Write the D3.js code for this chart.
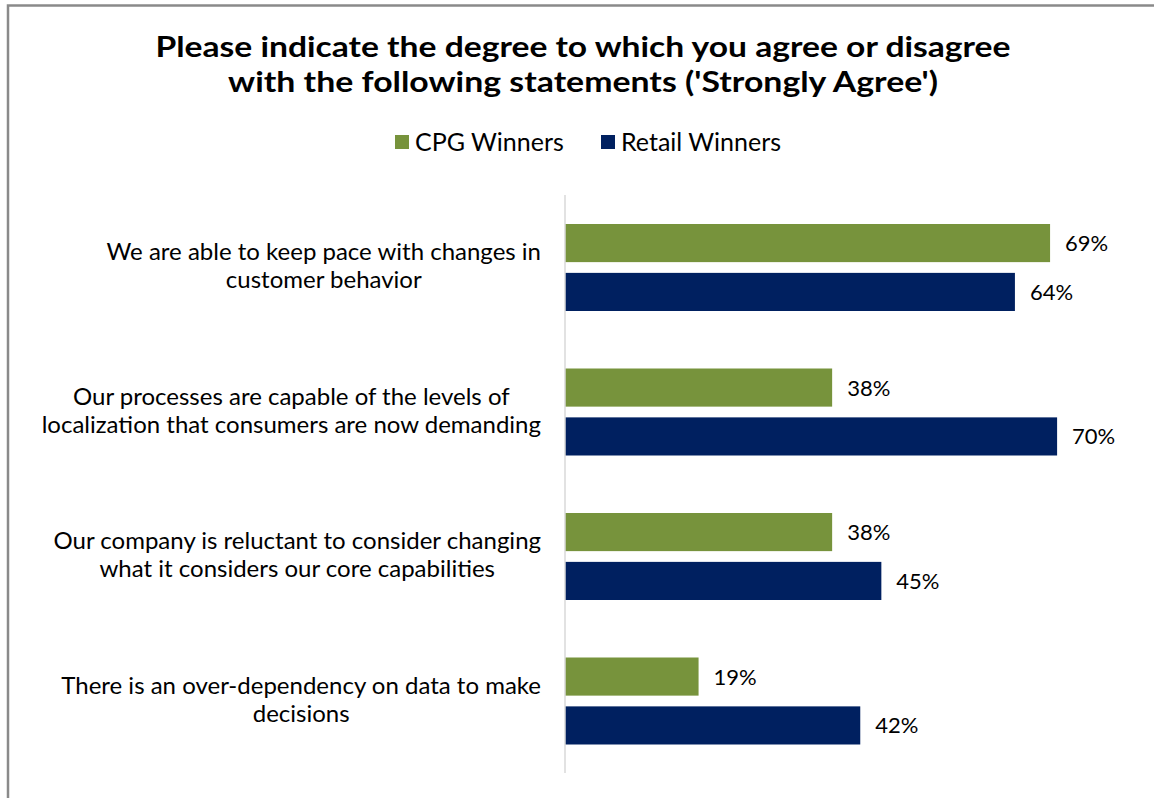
<!DOCTYPE html>
<html>
<head>
<meta charset="utf-8">
<script src="https://cdn.jsdelivr.net/npm/d3@7"></script>
<style>
  body { margin: 0; background: #fff; }
  text { font-family: Lato, "Open Sans", sans-serif; fill: #000; }
</style>
</head>
<body>
<script>
const categories = [
  ['We are able to keep pace with changes in', 'customer behavior'],
  ['Our processes are capable of the levels of', 'localization that consumers are now demanding'],
  ['Our company is reluctant to consider changing', 'what it considers our core capabilities'],
  ['There is an over-dependency on data to make', 'decisions']
];
const seriesNames = ['CPG Winners', 'Retail Winners'];
const cpgValues = [69, 38, 38, 19];
const retailValues = [64, 70, 45, 42];
const colors = ['#77933c', '#002060'];
const titleLines = [
  'Please indicate the degree to which you agree or disagree',
  "with the following statements ('Strongly Agree')"
];

const width = 1154, height = 798;
const svg = d3.select('body').append('svg')
  .attr('width', width)
  .attr('height', height);

// frame (top and left edges visible)
svg.append('path')
  .attr('d', `M8,${height} V5.5 H${width}`)
  .attr('fill', 'none')
  .attr('stroke', '#8a8a8a')
  .attr('stroke-width', 2.5);

// title
svg.append('text')
  .attr('text-anchor', 'middle')
  .attr('font-weight', 'bold')
  .attr('font-size', 28)
  .selectAll('tspan')
  .data(titleLines)
  .join('tspan')
  .attr('x', 583)
  .attr('y', (d, i) => 57 + i * 35)
  .attr('textLength', (d, i) => i === 0 ? 855 : 710)
  .attr('lengthAdjust', 'spacingAndGlyphs')
  .text(d => d);

// legend
const legend = svg.append('g');
const legendX = [395, 601];
seriesNames.forEach((name, i) => {
  legend.append('rect')
    .attr('x', legendX[i]).attr('y', 135)
    .attr('width', 14).attr('height', 14)
    .attr('fill', colors[i]);
  legend.append('text')
    .attr('x', legendX[i] + 20).attr('y', 151)
    .attr('font-size', 25)
    .text(name);
});

// scales
const x0 = 565;
const x = d3.scaleLinear().domain([0, 100]).range([x0, x0 + 703]);
const y = d3.scaleBand()
  .domain(d3.range(categories.length))
  .range([195, 773])
  .paddingInner(0)
  .paddingOuter(0);
const sub = d3.scaleBand()
  .domain(d3.range(seriesNames.length))
  .range([29, 29 + 87])
  .paddingInner(0.22);

const rows = categories.map((c, i) => ({ label: c, values: [cpgValues[i], retailValues[i]] }));

const groups = svg.append('g')
  .selectAll('g')
  .data(rows)
  .join('g')
  .attr('transform', (d, i) => `translate(0,${y(i)})`);

groups.selectAll('rect')
  .data(d => d.values)
  .join('rect')
  .attr('x', x(0))
  .attr('y', (d, i) => sub(i))
  .attr('width', d => x(d) - x(0))
  .attr('height', sub.bandwidth())
  .attr('fill', (d, i) => colors[i]);

groups.selectAll('text.val')
  .data(d => d.values)
  .join('text')
  .attr('class', 'val')
  .attr('x', d => x(d) + 15)
  .attr('y', (d, i) => sub(i) + sub.bandwidth() / 2 + 8)
  .attr('font-size', 22)
  .text(d => d + '%');

// category labels: block right-aligned to the axis, lines centred inside
const labelRight = x0 - 24;
groups.each(function(d) {
  const t = d3.select(this).append('text')
    .attr('text-anchor', 'middle')
    .attr('font-size', 24);
  const spans = t.selectAll('tspan')
    .data(d.label)
    .join('tspan')
    .attr('y', (s, i) => 65 + i * 28)
    .text(s => s);
  const maxW = d3.max(spans.nodes(), n => n.getComputedTextLength());
  spans.attr('x', labelRight - maxW / 2);
});

// category axis line
svg.append('line')
  .attr('x1', x0).attr('x2', x0)
  .attr('y1', 195).attr('y2', 773)
  .attr('stroke', '#d9d9d9')
  .attr('stroke-width', 1.5);
</script>
</body>
</html>
